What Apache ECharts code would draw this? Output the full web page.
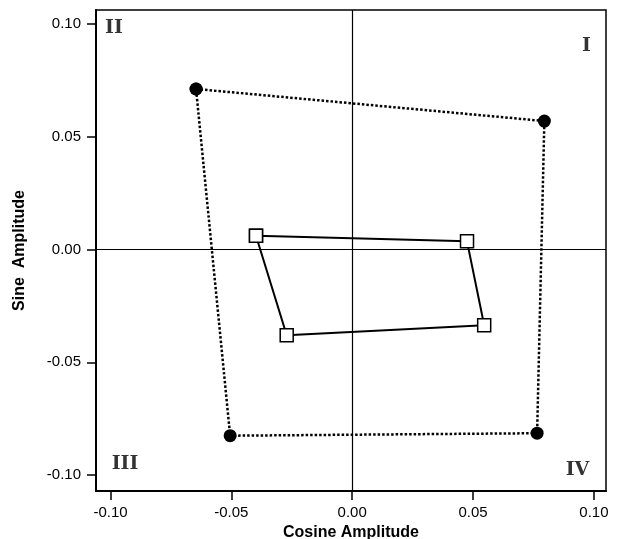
<!DOCTYPE html>
<html>
<head>
<meta charset="utf-8">
<script src="https://cdn.jsdelivr.net/npm/echarts@6/dist/echarts.min.js"></script>
<style>html,body{margin:0;padding:0;background:#fff;}#c{width:618px;height:539px;}</style>
</head>
<body>
<div id="c"></div>
<script>
// Outer loop (filled circles, dotted line)
const circleX = [-0.0646, 0.0795, 0.0765, -0.0505];
const circleY = [0.0711, 0.0569, -0.0814, -0.0825];
// Inner loop (open squares, solid line)
const squareX = [-0.0398, 0.0475, 0.0546, -0.0271];
const squareY = [0.0061, 0.0036, -0.0336, -0.0380];
// Tick values
const xTicks = [-0.10, -0.05, 0.00, 0.05, 0.10];
const yTicks = [-0.10, -0.05, 0.00, 0.05, 0.10];
// Quadrant labels
const quadNames = ['I', 'II', 'III', 'IV'];
const quadX = [0.0969, -0.0986, -0.0940, 0.0932];
const quadY = [0.0901, 0.0981, -0.0950, -0.0977];

function closed(xs, ys) {
  const d = xs.map((x, i) => [x, ys[i]]);
  d.push([xs[0], ys[0]]);
  return d;
}

const chart = echarts.init(document.getElementById('c'), null, {renderer: 'canvas'});
const tickFont = {fontFamily: 'Liberation Sans, Arial, sans-serif', fontSize: 15, color: '#000'};
chart.setOption({
  animation: false,
  grid: {left: 96, right: 12, top: 10, bottom: 48, show: true, borderColor: '#000', borderWidth: 1.5,
         containLabel: false, outerBoundsMode: 'none'},
  xAxis: {
    type: 'value', min: -0.106, max: 0.105,
    name: 'Cosine Amplitude', nameLocation: 'middle', nameGap: 32,
    nameTextStyle: {fontFamily: 'Liberation Sans, Arial, sans-serif', fontSize: 16, fontWeight: 'bold', color: '#000'},
    axisLine: {show: true, onZero: false, lineStyle: {color: '#000', width: 2}},
    axisTick: {show: true, inside: false, length: 9, customValues: xTicks, lineStyle: {color: '#000', width: 1.5}},
    axisLabel: Object.assign({customValues: xTicks, margin: 14, formatter: v => v.toFixed(2)}, tickFont),
    splitLine: {show: false}
  },
  yAxis: {
    type: 'value', min: -0.1070, max: 0.1061,
    name: 'Sine  Amplitude', nameLocation: 'middle', nameGap: 68,
    nameTextStyle: {fontFamily: 'Liberation Sans, Arial, sans-serif', fontSize: 16, fontWeight: 'bold', color: '#000'},
    axisLine: {show: true, onZero: false, lineStyle: {color: '#000', width: 2}},
    axisTick: {show: true, inside: false, length: 9, customValues: yTicks, lineStyle: {color: '#000', width: 1.5}},
    axisLabel: Object.assign({customValues: yTicks, margin: 15, formatter: v => v.toFixed(2)}, tickFont),
    splitLine: {show: false}
  },
  series: [
    {
      type: 'line', data: [], silent: true, z: 1,
      markLine: {
        silent: true, symbol: 'none', label: {show: false},
        lineStyle: {color: '#000', type: 'solid', width: 1.2},
        data: [{yAxis: 0}, {xAxis: 0}]
      }
    },
    {
      type: 'line', data: closed(circleX, circleY), z: 3,
      symbol: 'circle', symbolSize: 13, showAllSymbol: true,
      lineStyle: {color: '#000', width: 2.5, type: [2.5, 2]},
      itemStyle: {color: '#000'}
    },
    {
      type: 'line', data: closed(squareX, squareY), z: 4,
      symbol: 'rect', symbolSize: 13, showAllSymbol: true,
      lineStyle: {color: '#000', width: 2, type: 'solid'},
      itemStyle: {color: '#fff', borderColor: '#000', borderWidth: 1.5}
    },
    {
      type: 'scatter', z: 5, symbolSize: 0, silent: true,
      data: quadNames.map((n, i) => ({value: [quadX[i], quadY[i]], name: n})),
      label: {
        show: true, position: 'inside', formatter: p => p.name,
        fontFamily: 'DejaVu Serif, Liberation Serif, serif', fontWeight: 'bold', fontSize: 19, color: '#000'
      }
    }
  ]
});
</script>
</body>
</html>
